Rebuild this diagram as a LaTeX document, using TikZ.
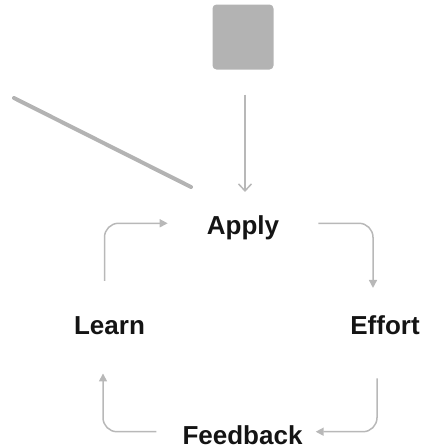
\documentclass[tikz,border=0pt]{standalone}
\usepackage{fontspec}
\setmainfont{Liberation Sans}[BoldFont={Liberation Sans Bold}]
\usetikzlibrary{arrows.meta}
\definecolor{ink}{HTML}{141414}
\definecolor{wire}{HTML}{B8B8B8}
\definecolor{block}{HTML}{B3B3B3}

\begin{document}
\begin{tikzpicture}[
		x=1pt, y=-1pt,
		word/.style={font=\fontsize{26}{30}\selectfont\bfseries, text=ink, inner sep=2pt, anchor=base},
		ring/.style={draw=wire, line width=1.5pt, rounded corners=14pt, -{Triangle[length=8pt,width=8pt]}},
		feed/.style={draw=wire, line width=1.5pt, -{Straight Barb[length=7pt,width=13pt]}}
		]
		\useasboundingbox (0,0) rectangle (421,448);
		\node[fill=block, rounded corners=4pt, minimum width=61pt, minimum height=65pt, inner sep=0pt] (sq) at (243,37) {};
		\node[word] (apply) at (243,234) {Apply};
		\node[word] (learn) at (109.5,334) {Learn};
		\node[word] (effort) at (385,334) {Effort};
		\node[word] (feedback) at (242.5,444) {Feedback};
		
		\draw[draw=block, line width=4pt, line cap=round] (14,98) -- (191,187);
		\draw[feed, shorten <=25pt, shorten >=21pt] ([xshift=2pt]sq.south) -- ([xshift=2pt]apply.north);
		
		\draw[ring, shorten <=33pt, shorten >=37pt] ([xshift=-5pt]learn.north) |- ([yshift=4pt]apply.west);
		\draw[ring, shorten <=37pt, shorten >=25pt] ([yshift=4pt]apply.east) -| ([xshift=-12pt]effort.north);
		\draw[ring, shorten <=42pt, shorten >=11pt] ([xshift=-8pt]effort.south) |- ([yshift=3pt]feedback.east);
		\draw[ring, shorten <=24pt, shorten >=37pt] ([yshift=3pt]feedback.west) -| ([xshift=-6.5pt]learn.south);
\end{tikzpicture}
\end{document}
